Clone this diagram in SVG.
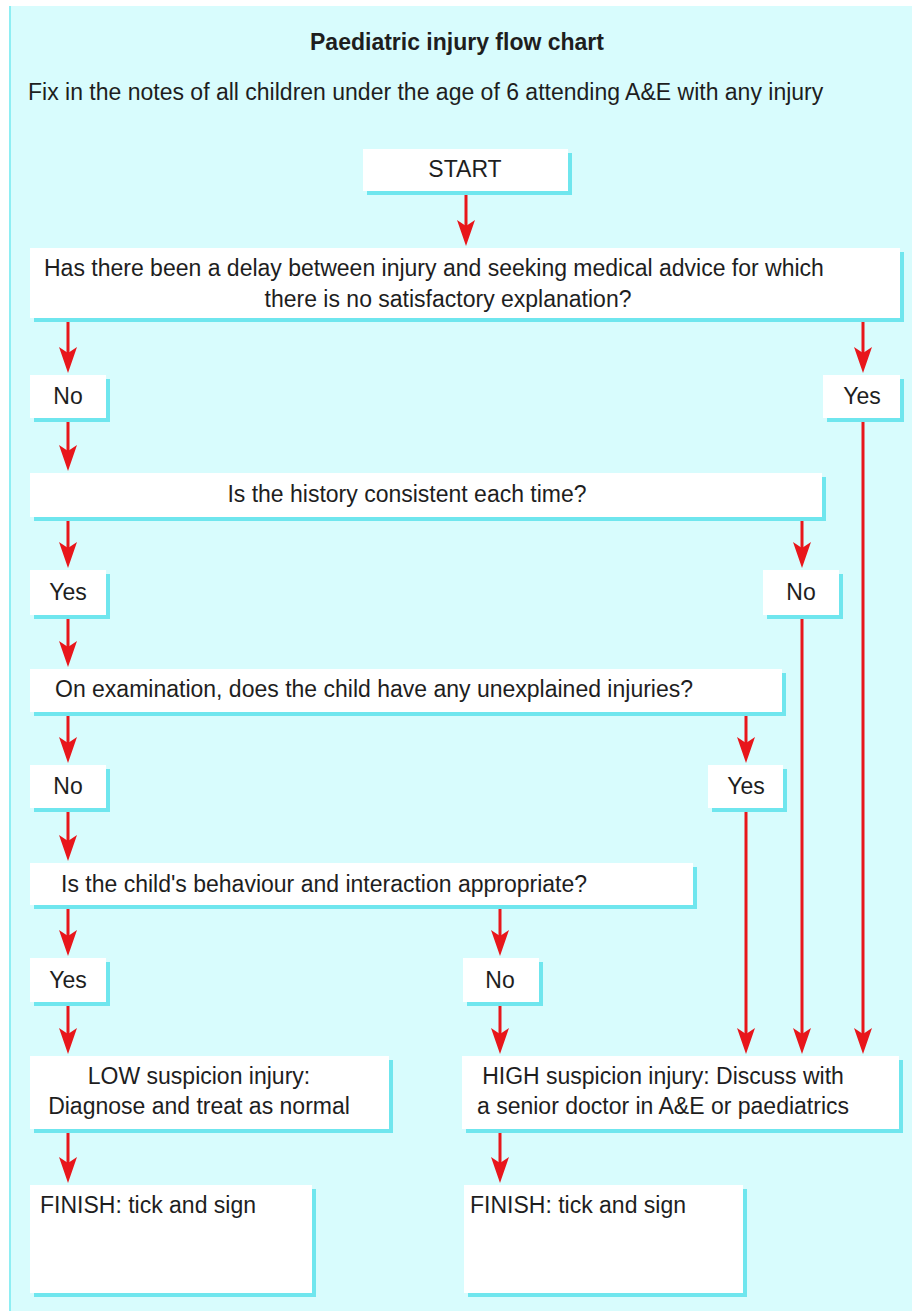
<svg xmlns="http://www.w3.org/2000/svg" width="912" height="1313" viewBox="0 0 912 1313">
<defs>
<style>
.t{font-family:"Liberation Sans",Arial,Helvetica,sans-serif;font-size:23px;fill:#1e1e1e}
.c{text-anchor:middle}
.b{font-weight:bold}
.box{fill:#ffffff}
.sh{fill:#6fe6ee}
.ln{stroke:#e8161b;stroke-width:3;fill:none}
</style>
<marker id="ah" markerUnits="userSpaceOnUse" viewBox="0 0 26 18" refX="20" refY="9" markerWidth="26" markerHeight="18" orient="auto">
<path d="M0,0 L26,9 L0,18 L6,9 Z" fill="#e8161b"/>
</marker>
</defs>
<rect x="0" y="0" width="912" height="1313" fill="#ffffff"/>
<rect x="9" y="6" width="903" height="1305" fill="#d8fcfd"/>
<line x1="10" y1="6" x2="10" y2="1311" stroke="#8eeef3" stroke-width="2"/>
<text class="t b c" x="457" y="50">Paediatric injury flow chart</text>
<text class="t" x="28" y="100">Fix in the notes of all children under the age of 6 attending A&amp;E with any injury</text>

<g id="connectors">
<line class="ln" x1="466" y1="191" x2="466" y2="240" marker-end="url(#ah)"/>
<line class="ln" x1="68" y1="318" x2="68" y2="367" marker-end="url(#ah)"/>
<line class="ln" x1="863" y1="318" x2="863" y2="367" marker-end="url(#ah)"/>
<line class="ln" x1="68" y1="418" x2="68" y2="465" marker-end="url(#ah)"/>
<line class="ln" x1="68" y1="517" x2="68" y2="562" marker-end="url(#ah)"/>
<line class="ln" x1="802" y1="517" x2="802" y2="562" marker-end="url(#ah)"/>
<line class="ln" x1="68" y1="615" x2="68" y2="661" marker-end="url(#ah)"/>
<line class="ln" x1="68" y1="712" x2="68" y2="757" marker-end="url(#ah)"/>
<line class="ln" x1="746" y1="712" x2="746" y2="757" marker-end="url(#ah)"/>
<line class="ln" x1="68" y1="808" x2="68" y2="855" marker-end="url(#ah)"/>
<line class="ln" x1="68" y1="905" x2="68" y2="950" marker-end="url(#ah)"/>
<line class="ln" x1="500" y1="905" x2="500" y2="950" marker-end="url(#ah)"/>
<line class="ln" x1="68" y1="1002" x2="68" y2="1048" marker-end="url(#ah)"/>
<line class="ln" x1="500" y1="1002" x2="500" y2="1048" marker-end="url(#ah)"/>
<line class="ln" x1="746" y1="808" x2="746" y2="1048" marker-end="url(#ah)"/>
<line class="ln" x1="802" y1="615" x2="802" y2="1048" marker-end="url(#ah)"/>
<line class="ln" x1="863" y1="418" x2="863" y2="1048" marker-end="url(#ah)"/>
<line class="ln" x1="68" y1="1129" x2="68" y2="1177" marker-end="url(#ah)"/>
<line class="ln" x1="500" y1="1129" x2="500" y2="1177" marker-end="url(#ah)"/>
</g>

<g id="start">
<rect class="sh" x="367" y="153" width="205" height="42"/>
<rect class="box" x="363" y="149" width="205" height="42"/>
<text class="t c" x="465" y="177">START</text>
</g>
<g id="q1">
<rect class="sh" x="34" y="252" width="870" height="70"/>
<rect class="box" x="30" y="248" width="870" height="70"/>
<text class="t" x="44" y="276">Has there been a delay between injury and seeking medical advice for which</text>
<text class="t c" x="448" y="307">there is no satisfactory explanation?</text>
</g>
<g id="q1-no">
<rect class="sh" x="34" y="379" width="76" height="43"/>
<rect class="box" x="30" y="375" width="76" height="43"/>
<text class="t c" x="68" y="404">No</text>
</g>
<g id="q1-yes">
<rect class="sh" x="827" y="379" width="77" height="43"/>
<rect class="box" x="823" y="375" width="77" height="43"/>
<text class="t c" x="862" y="404">Yes</text>
</g>
<g id="q2">
<rect class="sh" x="34" y="477" width="792" height="44"/>
<rect class="box" x="30" y="473" width="792" height="44"/>
<text class="t c" x="407" y="502">Is the history consistent each time?</text>
</g>
<g id="q2-yes">
<rect class="sh" x="34" y="574" width="76" height="45"/>
<rect class="box" x="30" y="570" width="76" height="45"/>
<text class="t c" x="68" y="600">Yes</text>
</g>
<g id="q2-no">
<rect class="sh" x="767" y="574" width="76" height="45"/>
<rect class="box" x="763" y="570" width="76" height="45"/>
<text class="t c" x="801" y="600">No</text>
</g>
<g id="q3">
<rect class="sh" x="34" y="673" width="752" height="43"/>
<rect class="box" x="30" y="669" width="752" height="43"/>
<text class="t" x="55" y="697">On examination, does the child have any unexplained injuries?</text>
</g>
<g id="q3-no">
<rect class="sh" x="34" y="769" width="76" height="43"/>
<rect class="box" x="30" y="765" width="76" height="43"/>
<text class="t c" x="68" y="794">No</text>
</g>
<g id="q3-yes">
<rect class="sh" x="712" y="769" width="75" height="43"/>
<rect class="box" x="708" y="765" width="75" height="43"/>
<text class="t c" x="746" y="794">Yes</text>
</g>
<g id="q4">
<rect class="sh" x="34" y="867" width="663" height="42"/>
<rect class="box" x="30" y="863" width="663" height="42"/>
<text class="t" x="61" y="892">Is the child's behaviour and interaction appropriate?</text>
</g>
<g id="q4-yes">
<rect class="sh" x="34" y="962" width="76" height="44"/>
<rect class="box" x="30" y="958" width="76" height="44"/>
<text class="t c" x="68" y="988">Yes</text>
</g>
<g id="q4-no">
<rect class="sh" x="467" y="962" width="76" height="44"/>
<rect class="box" x="463" y="958" width="76" height="44"/>
<text class="t c" x="500" y="988">No</text>
</g>
<g id="low">
<rect class="sh" x="34" y="1060" width="359" height="73"/>
<rect class="box" x="30" y="1056" width="359" height="73"/>
<text class="t c" x="199" y="1084">LOW suspicion injury:</text>
<text class="t c" x="199" y="1114">Diagnose and treat as normal</text>
</g>
<g id="high">
<rect class="sh" x="466" y="1060" width="437" height="73"/>
<rect class="box" x="462" y="1056" width="437" height="73"/>
<text class="t c" x="663" y="1084">HIGH suspicion injury: Discuss with</text>
<text class="t c" x="663" y="1114">a senior doctor in A&amp;E or paediatrics</text>
</g>
<g id="finish-low">
<rect class="sh" x="34" y="1189" width="282" height="108"/>
<rect class="box" x="30" y="1185" width="282" height="108"/>
<text class="t" x="40" y="1213">FINISH: tick and sign</text>
</g>
<g id="finish-high">
<rect class="sh" x="468" y="1189" width="279" height="108"/>
<rect class="box" x="464" y="1185" width="279" height="108"/>
<text class="t" x="470" y="1213">FINISH: tick and sign</text>
</g>
</svg>
